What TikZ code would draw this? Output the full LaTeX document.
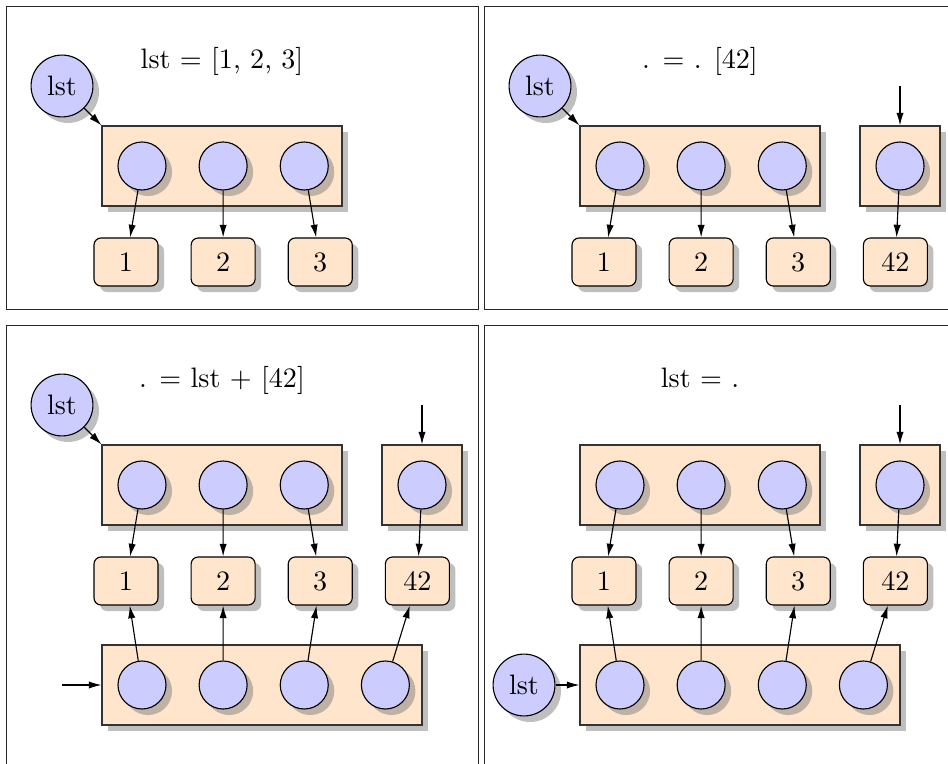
\documentclass[tikz,border=0pt]{standalone}
\usetikzlibrary{arrows.meta,positioning,shadows}

\begin{document}
\begin{tikzpicture}[x=1mm, y=-1mm, node distance=4mm,
  frame/.style={draw=black!85, line width=0.3pt},
  var/.style={circle, draw, fill=blue!20, drop shadow},
  slot/.style={circle, draw, fill=blue!20, minimum size=6mm, inner sep=0pt, drop shadow},
  arr/.style={draw=black!80, fill=orange!20, minimum height=10mm, inner sep=0pt, drop shadow},
  val/.style={draw, rounded corners=2.5pt, fill=orange!20, minimum width=8mm, minimum height=6mm, inner sep=0pt, drop shadow},
  ptr/.style={-{Latex[length=4.5pt,width=2.6pt]}}]
\useasboundingbox (0,0) rectangle (118.5,95.375);
\clip (0,0) rectangle (118.5,95.375);

% panel frames
\draw[frame] (0.75,0.75) rectangle +(59,37.9);
\draw[frame] (60.5,0.75) rectangle +(59,37.9);
\draw[frame] (0.75,40.625) rectangle +(59,60);
\draw[frame] (60.5,40.625) rectangle +(59,60);

% lst = [1, 2, 3]
\begin{scope}[shift={(0.75,0.75)}]
\node[anchor=base] (A-title) at (27,7.8) {lst = [1, 2, 3]};
\node[var] (A-lst) at (7,10) {lst};
\node[arr, minimum width=30mm] (A-arr) at (27,20) {};
\node[slot] (A-s1) at (17,20) {};
\node[slot, right=of A-s1] (A-s2) {};
\node[slot, right=of A-s2] (A-s3) {};
\node[val] (A-v1) at (15,32) {1};
\node[val, right=of A-v1] (A-v2) {2};
\node[val, right=of A-v2] (A-v3) {3};
\draw[ptr] (A-lst) -- (A-arr.north west);
\draw[ptr] (A-s1) -- (A-v1);
\draw[ptr] (A-s2) -- (A-v2);
\draw[ptr] (A-s3) -- (A-v3);
\end{scope}

% . = . [42]
\begin{scope}[shift={(60.5,0.75)}]
\node[anchor=base] (B-title) at (27,7.8) {. = . [42]};
\node[var] (B-lst) at (7,10) {lst};
\node[arr, minimum width=30mm] (B-arr) at (27,20) {};
\node[slot] (B-s1) at (17,20) {};
\node[slot, right=of B-s1] (B-s2) {};
\node[slot, right=of B-s2] (B-s3) {};
\node[arr, minimum width=10mm] (B-box) at (52,20) {};
\node[slot] (B-s4) at (52,20) {};
\coordinate (B-in) at (52,10);
\node[val] (B-v1) at (15,32) {1};
\node[val, right=of B-v1] (B-v2) {2};
\node[val, right=of B-v2] (B-v3) {3};
\node[val, right=of B-v3] (B-v4) {42};
\draw[ptr] (B-lst) -- (B-arr.north west);
\draw[ptr] (B-in) -- (B-box);
\draw[ptr] (B-s1) -- (B-v1);
\draw[ptr] (B-s2) -- (B-v2);
\draw[ptr] (B-s3) -- (B-v3);
\draw[ptr] (B-s4) -- (B-v4);
\end{scope}

% . = lst + [42]
\begin{scope}[shift={(0.75,40.625)}]
\node[anchor=base] (C-title) at (27,7.8) {. = lst + [42]};
\node[var] (C-lst) at (7,10) {lst};
\node[arr, minimum width=30mm] (C-arr) at (27,20) {};
\node[slot] (C-s1) at (17,20) {};
\node[slot, right=of C-s1] (C-s2) {};
\node[slot, right=of C-s2] (C-s3) {};
\node[arr, minimum width=10mm] (C-box) at (52,20) {};
\node[slot] (C-s4) at (52,20) {};
\coordinate (C-in) at (52,10);
\node[val] (C-v1) at (15,32) {1};
\node[val, right=of C-v1] (C-v2) {2};
\node[val, right=of C-v2] (C-v3) {3};
\node[val, right=of C-v3] (C-v4) {42};
\node[arr, minimum width=40mm] (C-new) at (32,45) {};
\node[slot] (C-t1) at (17,45) {};
\node[slot, right=of C-t1] (C-t2) {};
\node[slot, right=of C-t2] (C-t3) {};
\node[slot, right=of C-t3] (C-t4) {};
\coordinate (C-in2) at (7,45);
\draw[ptr] (C-lst) -- (C-arr.north west);
\draw[ptr] (C-in) -- (C-box);
\draw[ptr] (C-in2) -- (C-new);
\draw[ptr] (C-s1) -- (C-v1);
\draw[ptr] (C-s2) -- (C-v2);
\draw[ptr] (C-s3) -- (C-v3);
\draw[ptr] (C-s4) -- (C-v4);
\draw[ptr] (C-t1) -- (C-v1);
\draw[ptr] (C-t2) -- (C-v2);
\draw[ptr] (C-t3) -- (C-v3);
\draw[ptr] (C-t4) -- (C-v4);
\end{scope}

% lst = .
\begin{scope}[shift={(60.5,40.625)}]
\node[anchor=base] (D-title) at (27,7.8) {lst = .};
\node[arr, minimum width=30mm] (D-arr) at (27,20) {};
\node[slot] (D-s1) at (17,20) {};
\node[slot, right=of D-s1] (D-s2) {};
\node[slot, right=of D-s2] (D-s3) {};
\node[arr, minimum width=10mm] (D-box) at (52,20) {};
\node[slot] (D-s4) at (52,20) {};
\coordinate (D-in) at (52,10);
\node[val] (D-v1) at (15,32) {1};
\node[val, right=of D-v1] (D-v2) {2};
\node[val, right=of D-v2] (D-v3) {3};
\node[val, right=of D-v3] (D-v4) {42};
\node[arr, minimum width=40mm] (D-new) at (32,45) {};
\node[slot] (D-t1) at (17,45) {};
\node[slot, right=of D-t1] (D-t2) {};
\node[slot, right=of D-t2] (D-t3) {};
\node[slot, right=of D-t3] (D-t4) {};
\node[var] (D-lst) at (5,45) {lst};
\draw[ptr] (D-in) -- (D-box);
\draw[ptr] (D-lst) -- (D-new);
\draw[ptr] (D-s1) -- (D-v1);
\draw[ptr] (D-s2) -- (D-v2);
\draw[ptr] (D-s3) -- (D-v3);
\draw[ptr] (D-s4) -- (D-v4);
\draw[ptr] (D-t1) -- (D-v1);
\draw[ptr] (D-t2) -- (D-v2);
\draw[ptr] (D-t3) -- (D-v3);
\draw[ptr] (D-t4) -- (D-v4);
\end{scope}
\end{tikzpicture}
\end{document}
